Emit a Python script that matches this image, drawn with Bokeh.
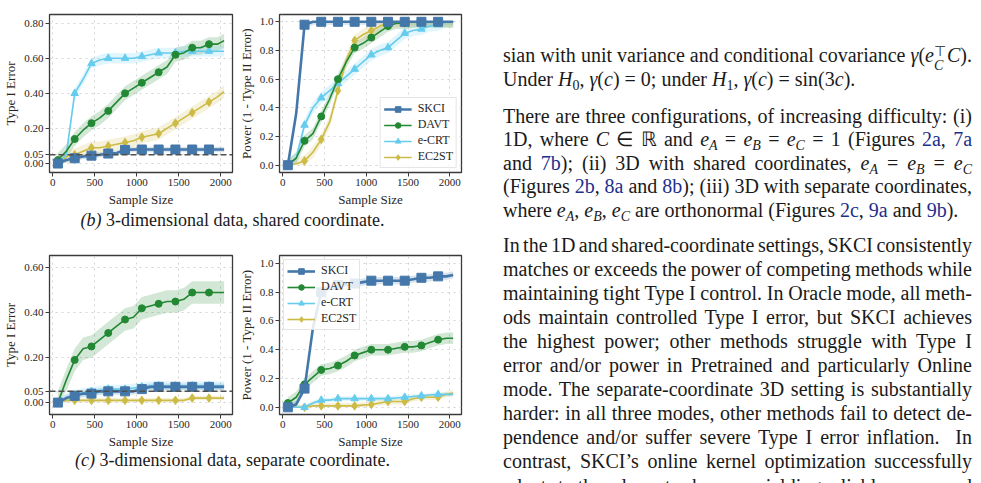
from bokeh.plotting import figure
from bokeh.models import (FixedTicker, NumeralTickFormatter, Span, Legend,
                          LegendItem, Div, Spacer, Range1d)
from bokeh.layouts import row, column
from bokeh.embed import file_html
from bokeh.resources import INLINE

# ---------------------------------------------------------------- data
SAMPLE_SIZES = [60, 160, 260, 360, 460, 560, 660, 760, 860, 960, 1060,
                1160, 1260, 1360, 1460, 1560, 1660, 1760, 1860, 1960, 2040]
METHODS = ["SKCI", "DAVT", "e-CRT", "EC2ST"]

# (b) shared coordinate: Type I error
skci_b_type1 = [0.00, 0.02, 0.03, 0.04, 0.045, 0.05, 0.057, 0.06, 0.078, 0.08, 0.08,
                0.08, 0.08, 0.08, 0.08, 0.08, 0.08, 0.08, 0.08, 0.08, 0.08]
davt_b_type1 = [0.02, 0.07, 0.14, 0.19, 0.23, 0.26, 0.30, 0.35, 0.40, 0.43, 0.46,
                0.49, 0.52, 0.55, 0.62, 0.63, 0.66, 0.66, 0.68, 0.68, 0.70]
ecrt_b_type1 = [0.00, 0.05, 0.40, 0.48, 0.57, 0.59, 0.60, 0.60, 0.60, 0.60, 0.61,
                0.62, 0.63, 0.63, 0.63, 0.64, 0.64, 0.64, 0.64, 0.64, 0.64]
ec2st_b_type1 = [0.00, 0.04, 0.05, 0.07, 0.09, 0.09, 0.10, 0.11, 0.12, 0.13, 0.15,
                 0.16, 0.17, 0.20, 0.23, 0.26, 0.29, 0.32, 0.35, 0.38, 0.41]

# (b) shared coordinate: power
skci_b_power = [0.00, 0.36, 0.98, 1.00, 1.00, 1.00, 1.00, 1.00, 1.00, 1.00, 1.00,
                1.00, 1.00, 1.00, 1.00, 1.00, 1.00, 1.00, 1.00, 1.00, 1.00]
davt_b_power = [0.00, 0.05, 0.17, 0.22, 0.34, 0.46, 0.60, 0.72, 0.82, 0.85, 0.89,
                0.93, 0.97, 0.99, 0.99, 1.00, 1.00, 1.00, 1.00, 1.00, 1.00]
ecrt_b_power = [0.00, 0.05, 0.28, 0.40, 0.47, 0.52, 0.57, 0.62, 0.67, 0.72, 0.77,
                0.80, 0.82, 0.87, 0.92, 0.94, 0.95, 0.97, 0.98, 1.00, 1.00]
ec2st_b_power = [0.00, 0.01, 0.03, 0.09, 0.18, 0.30, 0.52, 0.73, 0.87, 0.91, 0.94,
                 0.97, 0.99, 1.00, 1.00, 1.00, 1.00, 1.00, 1.00, 1.00, 1.00]

# (c) separate coordinate: Type I error
skci_c_type1 = [0.00, 0.02, 0.03, 0.04, 0.04, 0.05, 0.05, 0.05, 0.05, 0.05, 0.06,
                0.07, 0.07, 0.07, 0.07, 0.07, 0.07, 0.07, 0.07, 0.07, 0.07]
davt_c_type1 = [0.00, 0.10, 0.19, 0.24, 0.25, 0.28, 0.31, 0.34, 0.37, 0.38, 0.42,
                0.43, 0.44, 0.45, 0.45, 0.46, 0.49, 0.49, 0.49, 0.49, 0.49]
ecrt_c_type1 = [0.00, 0.02, 0.035, 0.045, 0.05, 0.055, 0.06, 0.06, 0.06, 0.065, 0.07,
                0.075, 0.075, 0.075, 0.075, 0.075, 0.075, 0.075, 0.075, 0.075, 0.075]
ec2st_c_type1 = [0.00, 0.01, 0.01, 0.01, 0.01, 0.01, 0.01, 0.01, 0.01, 0.01, 0.01,
                 0.01, 0.01, 0.01, 0.01, 0.01, 0.02, 0.02, 0.02, 0.02, 0.02]

# (c) separate coordinate: power
skci_c_power = [0.00, 0.02, 0.13, 0.55, 0.80, 0.83, 0.85, 0.85, 0.86, 0.87, 0.88,
                0.88, 0.88, 0.88, 0.88, 0.89, 0.90, 0.90, 0.91, 0.91, 0.92]
davt_c_power = [0.03, 0.07, 0.16, 0.21, 0.26, 0.27, 0.29, 0.32, 0.36, 0.38, 0.40,
                0.40, 0.40, 0.41, 0.42, 0.42, 0.43, 0.45, 0.47, 0.48, 0.48]
ecrt_c_power = [0.00, 0.00, 0.00, 0.03, 0.05, 0.05, 0.06, 0.06, 0.06, 0.06, 0.06,
                0.06, 0.06, 0.065, 0.07, 0.075, 0.08, 0.085, 0.09, 0.09, 0.09]
ec2st_c_power = [0.00, 0.00, 0.00, 0.01, 0.01, 0.01, 0.01, 0.01, 0.01, 0.015, 0.02,
                 0.03, 0.04, 0.04, 0.04, 0.06, 0.07, 0.07, 0.07, 0.09, 0.10]

# half-width of the shaded confidence band, per method
band_b_type1 = [0.015, 0.04, 0.03, 0.035]
band_b_power = [0.02, 0.04, 0.04, 0.04]
band_c_type1 = [0.015, 0.05, 0.02, 0.01]
band_c_power = [0.025, 0.04, 0.015, 0.02]

X_TICKS = [0, 500, 1000, 1500, 2000]
TYPE1_TICKS_B = [0.0, 0.05, 0.2, 0.4, 0.6, 0.8]
TYPE1_TICKS_C = [0.0, 0.05, 0.2, 0.4, 0.6]
POWER_TICKS = [0.0, 0.2, 0.4, 0.6, 0.8, 1.0]
ALPHA_LEVEL = 0.05

# ---------------------------------------------------------------- style
COLORS = ["#4477AA", "#228833", "#66CCEE", "#CCBB44"]
MARKERS = ["square", "circle", "triangle", "diamond"]
MARKER_SIZES = [9, 7, 7.5, 8.5]
LINE_WIDTHS = [2.6, 1.6, 1.6, 1.6]
SERIF = "Liberation Serif"
INK = "#1a1a1a"
AXIS_INK = "#262626"


def panel(series, bands, y_range, y_ticks, y_fmt, y_label, width, height,
          borders, alpha_line=False, legend_loc=None):
    left, right, top, bottom = borders
    p = figure(width=width, height=height, x_range=Range1d(-40, 2140),
               y_range=Range1d(*y_range), output_backend="svg",
               toolbar_location=None, title=None,
               min_border_left=left, min_border_right=right,
               min_border_top=top, min_border_bottom=bottom)
    p.background_fill_color = "white"
    p.border_fill_color = "white"
    p.outline_line_color = "#3a3a3a"
    p.outline_line_width = 1.3
    p.outline_line_alpha = 1.0

    p.xaxis.ticker = FixedTicker(ticks=X_TICKS)
    p.yaxis.ticker = FixedTicker(ticks=y_ticks)
    p.yaxis.formatter = NumeralTickFormatter(format=y_fmt)
    p.xaxis.axis_label = "Sample Size"
    p.yaxis.axis_label = y_label
    for ax in (p.xaxis[0], p.yaxis[0]):
        ax.axis_line_color = None
        ax.major_tick_line_color = "#3a3a3a"
        ax.major_tick_line_width = 1
        ax.major_tick_out = 4
        ax.major_tick_in = 0
        ax.minor_tick_line_color = None
        ax.major_label_text_font = SERIF
        ax.major_label_text_font_size = "11px"
        ax.major_label_text_color = AXIS_INK
        ax.major_label_standoff = 2
        ax.axis_label_text_font = SERIF
        ax.axis_label_text_font_size = "13px"
        ax.axis_label_text_font_style = "normal"
        ax.axis_label_text_color = AXIS_INK
        ax.axis_label_standoff = 3

    p.grid.grid_line_color = "#c8c8c8"
    p.grid.grid_line_dash = "dotted"
    p.grid.grid_line_width = 0.8

    xs = SAMPLE_SIZES
    for i, vals in enumerate(series):
        lo = [max(0.0, v - bands[i]) for v in vals]
        hi = [min(1.0, v + bands[i]) for v in vals]
        p.varea(x=xs, y1=lo, y2=hi, fill_color=COLORS[i], fill_alpha=0.2)

    if alpha_line:
        p.add_layout(Span(location=ALPHA_LEVEL, dimension="width",
                          line_color="#505050", line_dash="6 3", line_width=1.5))

    renderers = {}
    for i in reversed(range(len(series))):
        vals = series[i]
        ln = p.line(xs, vals, line_color=COLORS[i], line_width=LINE_WIDTHS[i])
        mk = p.scatter(xs[:-1:2], vals[:-1:2], marker=MARKERS[i],
                       size=MARKER_SIZES[i], fill_color=COLORS[i],
                       line_color=COLORS[i])
        renderers[i] = [ln, mk]

    if legend_loc is not None:
        items = [LegendItem(label=METHODS[i], renderers=renderers[i])
                 for i in range(len(series))]
        leg = Legend(items=items, location=legend_loc)
        leg.label_text_font = SERIF
        leg.label_text_font_size = "12px"
        leg.label_text_color = AXIS_INK
        leg.glyph_width = 28
        leg.glyph_height = 14
        leg.label_height = 14
        leg.label_standoff = 6
        leg.spacing = 1
        leg.padding = 3
        leg.margin = 4
        leg.border_line_color = "#cccccc"
        leg.border_line_width = 1
        leg.background_fill_alpha = 0.85
        p.add_layout(leg)
    return p


p_b1 = panel([skci_b_type1, davt_b_type1, ecrt_b_type1, ec2st_b_type1], band_b_type1,
             (-0.051, 0.849), TYPE1_TICKS_B, "0.00", "Type I Error",
             235, 210, (47, 3, 14, 38), alpha_line=True)
p_b2 = panel([skci_b_power, davt_b_power, ecrt_b_power, ec2st_b_power], band_b_power,
             (-0.051, 1.051), POWER_TICKS, "0.0", "Power (1 - Type II Error)",
             235, 210, (42, 9, 14, 38), legend_loc="bottom_right")
p_c1 = panel([skci_c_type1, davt_c_type1, ecrt_c_type1, ec2st_c_type1], band_c_type1,
             (-0.053, 0.655), TYPE1_TICKS_C, "0.00", "Type I Error",
             235, 211, (47, 3, 14, 38), alpha_line=True)
p_c2 = panel([skci_c_power, davt_c_power, ecrt_c_power, ec2st_c_power], band_c_power,
             (-0.05, 1.055), POWER_TICKS, "0.0", "Power (1 - Type II Error)",
             235, 211, (42, 9, 14, 38), legend_loc="top_left")

# ---------------------------------------------------------------- captions
CAP_STYLE = (f"font-family:'{SERIF}';font-size:18px;color:{INK};width:465px;"
             "text-align:center;line-height:20px;white-space:nowrap")
cap_b = Div(text=f'<div style="{CAP_STYLE};padding-top:0px"><i>(b)</i> 3-dimensional data, shared coordinate.</div>',
            width=465, height=31, margin=0)
cap_c = Div(text=f'<div style="{CAP_STYLE};margin-top:-2px"><i>(c)</i> 3-dimensional data, separate coordinate.</div>',
            width=465, height=31, margin=0)

# ---------------------------------------------------------------- body text
LINK = "#1c2f8c"


def sub(s):
    return f'<sub style="font-size:0.7em;line-height:0;vertical-align:-0.3em">{s}</sub>'


def stacked(sup_s, sub_s):
    return ('<span style="display:inline-block;vertical-align:-0.55em;font-size:0.7em;'
            f'line-height:1.0em;text-align:left;margin-right:1px">{sup_s}<br>{sub_s}</span>')


def ref(s):
    return f'<span style="color:{LINK}">{s}</span>'


eA = "<i>e</i>" + sub("<i>A</i>")
eB = "<i>e</i>" + sub("<i>B</i>")
eC = "<i>e</i>" + sub("<i>C</i>")

PARAGRAPHS = [
    [
        "sian with unit variance and conditional covariance <i>γ</i>(<i>e</i>"
        + stacked("⊤", "<i>C</i>") + "<i>C</i>).",
        "Under <i>H</i>" + sub("0") + ", <i>γ</i>(<i>c</i>) = 0; under <i>H</i>" + sub("1")
        + ", <i>γ</i>(<i>c</i>) = sin(3<i>c</i>).",
    ],
    [
        "There are three configurations, of increasing difficulty: (i)",
        f"1D, where <i>C</i> ∈ ℝ and {eA} = {eB} = {eC} = 1 (Figures {ref('2a')}, {ref('7a')}",
        f"and {ref('7b')}); (ii) 3D with shared coordinates, {eA} = {eB} = {eC}",
        f"(Figures {ref('2b')}, {ref('8a')} and {ref('8b')}); (iii) 3D with separate coordinates,",
        f"where {eA}, {eB}, {eC} are orthonormal (Figures {ref('2c')}, {ref('9a')} and {ref('9b')}).",
    ],
    [
        "In the 1D and shared-coordinate settings, SKCI consistently",
        "matches or exceeds the power of competing methods while",
        "maintaining tight Type I control. In Oracle mode, all meth-",
        "ods maintain controlled Type I error, but SKCI achieves",
        "the highest power; other methods struggle with Type I",
        "error and/or power in Pretrained and particularly Online",
        "mode. The separate-coordinate 3D setting is substantially",
        "harder: in all three modes, other methods fail to detect de-",
        "pendence and/or suffer severe Type I error inflation.&nbsp; In",
        "contrast, SKCI’s online kernel optimization successfully",
        "adapts to the relevant subspace, yielding reliable power and",
    ],
]
# top margin and line pitch of each paragraph
PARA_GAPS = [43.0, 13.5, 10.6]
PARA_LINE_H = [24.0, 23.5, 24.1]

html = [f'<div style="font-family:\'{SERIF}\';font-size:20px;color:{INK};width:469px">']
for p_idx, (gap, lh, lines) in enumerate(zip(PARA_GAPS, PARA_LINE_H, PARAGRAPHS)):
    html.append(f'<div style="margin-top:{gap}px">')
    for k, ln in enumerate(lines):
        last = (k == len(lines) - 1) and p_idx < len(PARAGRAPHS) - 1
        if last:
            style = "text-align:left"
        else:
            style = "text-align:justify;text-align-last:justify;word-spacing:-2.5px"
        html.append(f'<div style="height:{lh}px;line-height:{lh}px;white-space:nowrap;'
                    f'{style}">{ln}</div>')
    html.append('</div>')
html.append('</div>')
body = Div(text="".join(html), width=469, height=483, margin=0)

left = column(row(p_b1, p_b2, spacing=0), cap_b, row(p_c1, p_c2, spacing=0), cap_c, spacing=0)
page = row(left, Spacer(width=33, height=10, margin=0), body, spacing=0)

open("out.html", "w").write(file_html(page, INLINE, title="SKCI results"))
